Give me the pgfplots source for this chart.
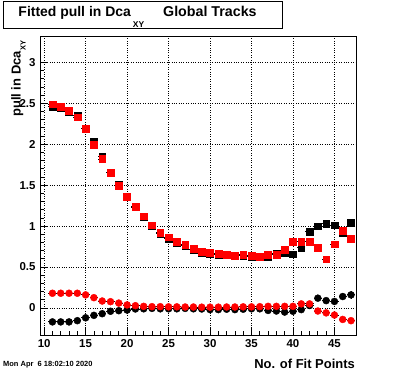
\documentclass[border=0pt]{standalone}
\usepackage{pgfplots}
\pgfplotsset{compat=1.18}
\usepackage{pgfplotstable}
\usepackage{fontspec}
\setmainfont{Liberation Sans}
\setsansfont{Liberation Sans}

\pgfplotstableread{
x  bu    ru    bl     rl     ebl
11 2.46  2.49  -0.17  0.18   0.015
12 2.45  2.455 -0.17  0.18   0.015
13 2.40  2.41  -0.17  0.18   0.015
14 2.35  2.33  -0.155 0.18   0.015
15 2.19  2.19  -0.12  0.16   0.015
16 2.035 1.995 -0.09  0.126  0.015
17 1.85  1.82  -0.07  0.085  0.015
18 1.656 1.656 -0.04  0.077  0.015
19 1.505 1.49  -0.033 0.06   0.015
20 1.355 1.36  -0.025 0.037  0.015
21 1.23  1.24  -0.012 0.028  0.015
22 1.11  1.12  -0.01  0.02   0.015
23 1.00  1.01  -0.005 0.016  0.015
24 0.91  0.92  -0.01  0.016  0.015
25 0.85  0.865 -0.01  0.014  0.015
26 0.80  0.81  -0.01  0.014  0.015
27 0.76  0.77  -0.005 0.012  0.015
28 0.71  0.72  -0.01  0.012  0.015
29 0.675 0.69  -0.012 0.01   0.015
30 0.665 0.677 -0.02  0.01   0.015
31 0.655 0.66  -0.02  0.01   0.015
32 0.645 0.648 -0.015 0.012  0.015
33 0.635 0.64  -0.02  0.012  0.015
34 0.636 0.652 -0.015 0.014  0.015
35 0.63  0.636 -0.01  0.014  0.015
36 0.625 0.63  -0.01  0.016  0.015
37 0.62  0.652 -0.03  0.02   0.02
38 0.66  0.648 -0.037 0.02   0.02
39 0.677 0.71  -0.05  0.02   0.02
40 0.656 0.81  -0.04  0.02   0.02
41 0.74  0.81  -0.02  0.05   0.025
42 0.934 0.81  0.03   0.05   0.03
43 1.0   0.74  0.12   -0.037 0.035
44 1.03  0.595 0.09   -0.06  0.035
45 1.01  0.78  0.08   -0.086 0.04
46 0.92  0.94  0.14   -0.14  0.045
47 1.044 0.85  0.16   -0.155 0.05
}\data

\begin{document}
\begin{tikzpicture}
\path[use as bounding box] (-40bp,-37bp) rectangle (356bp,335bp);
\begin{axis}[
  at={(0bp,0bp)}, anchor=south west,
  scale only axis, width=316bp, height=298bp,
  xmin=9.5, xmax=47.6, ymin=-0.33, ymax=3.31,
  xtick={10,15,...,45}, minor x tick num=4,
  ytick={0,0.5,...,3}, minor y tick num=4,
  tick pos=left, tick align=inside,
  major tick length=7bp, minor tick length=3.5bp,
  tick style={black, line width=0.8bp},
  axis line style={line width=1bp},
  grid=major, grid style={dotted, black, line width=0.8bp},
  /pgf/number format/assume math mode=true,
  ticklabel style={font=\bfseries\fontsize{11.5}{12}\selectfont},
  xticklabel style={yshift=-1bp},
  yticklabel style={xshift=-1bp},
  error bars/error bar style={black, line width=0.9bp},
  error bars/error mark=none,
]
\addplot[only marks, mark=square*, mark size=3.4bp, black,
  error bars/.cd, x dir=both, x fixed=0.5, y dir=both, y fixed=0.015]
  table[x=x, y=bu] {\data};
\addplot[only marks, mark=square*, mark size=3.4bp, red,
  error bars/.cd, x dir=both, x fixed=0.5, y dir=both, y fixed=0.015]
  table[x=x, y=ru] {\data};
\addplot[only marks, mark=*, mark size=3.5bp, black,
  error bars/.cd, x dir=both, x fixed=0.5, y dir=both, y explicit]
  table[x=x, y=bl, y error=ebl] {\data};
\addplot[only marks, mark=*, mark size=3.5bp, red,
  error bars/.cd, x dir=both, x fixed=0.5, y dir=both, y fixed=0.012]
  table[x=x, y=rl] {\data};
\end{axis}
% title box
\draw[line width=0.9bp, fill=white] (-37bp,307bp) rectangle (242bp,334bp);
\node[anchor=base west, inner sep=0pt, font=\bfseries\fontsize{14}{14}\selectfont]
  at (-21.7bp,318.3bp) {Fitted pull in Dca\hspace{2bp}\raisebox{-11bp}{\fontsize{8.5}{8.5}\selectfont XY}};
\node[anchor=base west, inner sep=0pt, font=\bfseries\fontsize{14.3}{14.3}\selectfont]
  at (123bp,318.3bp) {Global Tracks};
% y label
\node[rotate=90, anchor=base east, inner sep=0pt, font=\bfseries\fontsize{13}{13}\selectfont]
  at (-19.5bp,295bp) {pull in Dca\hspace{1bp}\raisebox{-5bp}{\fontsize{7.5}{7.5}\selectfont XY}};
% x label
\node[anchor=base east, inner sep=0pt, font=\bfseries\fontsize{13}{13}\selectfont]
  at (315bp,-33bp) {No. of Fit Points};
% date
\node[anchor=base west, inner sep=0pt, font=\bfseries\fontsize{7.5}{8}\selectfont]
  at (-37bp,-31.5bp) {Mon Apr\ \ 6 18:02:10 2020};
\end{tikzpicture}
\end{document}
